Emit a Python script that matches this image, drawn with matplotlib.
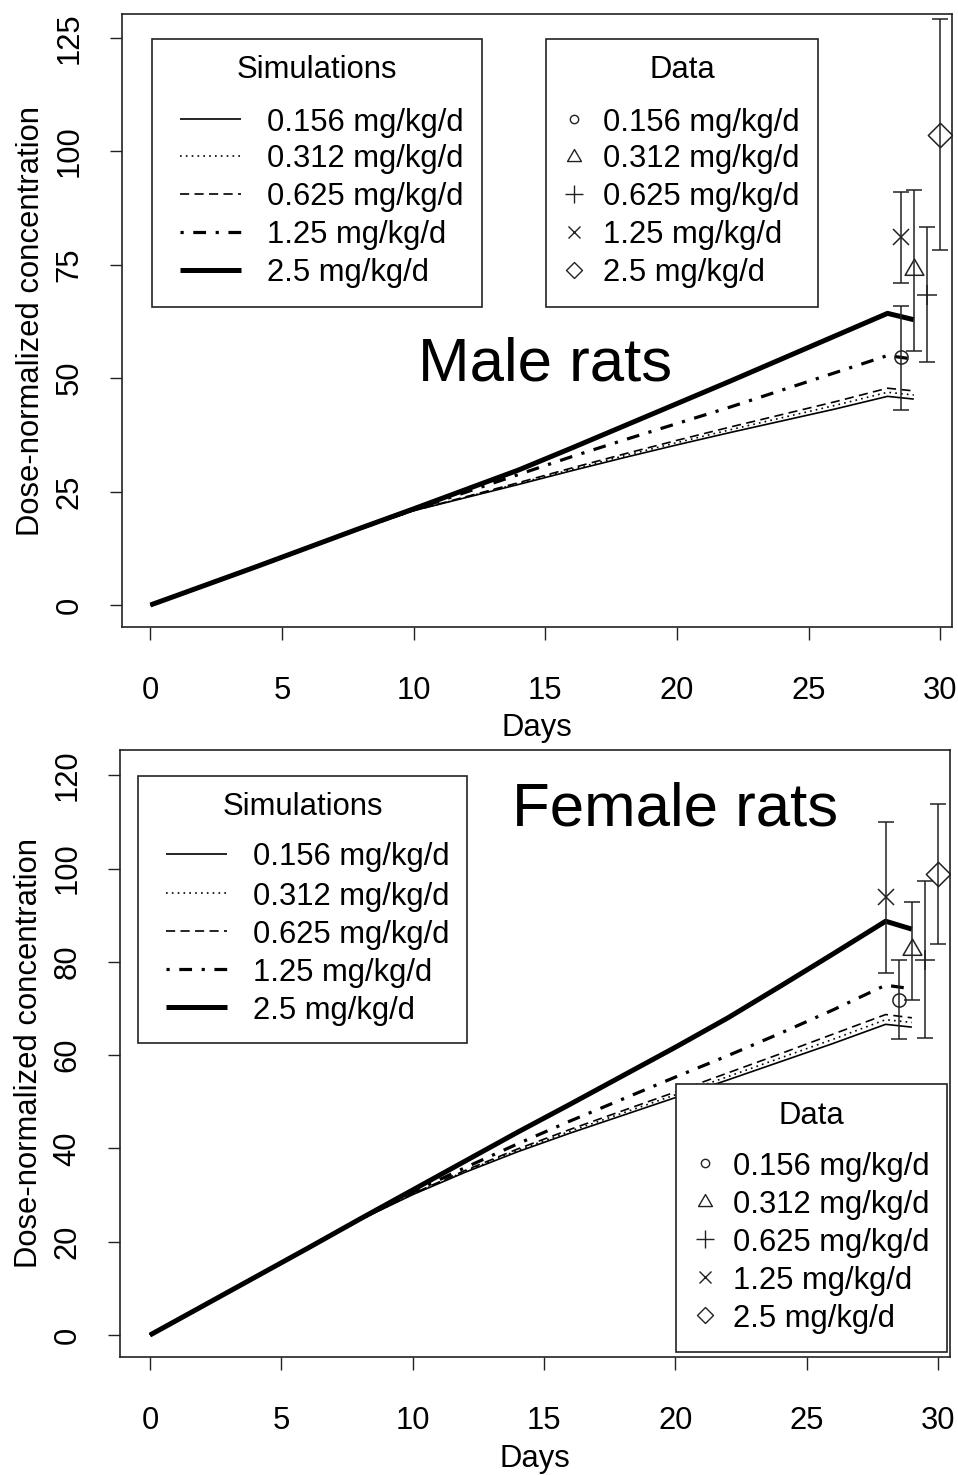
import matplotlib
matplotlib.use('Agg')
import matplotlib.pyplot as plt
from matplotlib.lines import Line2D
from matplotlib.patches import Rectangle
from matplotlib.path import Path

plt.rcParams['font.family'] = ['Liberation Sans', 'DejaVu Sans']

# ---------------- data ----------------
dose_labels = ['0.156 mg/kg/d', '0.312 mg/kg/d', '0.625 mg/kg/d', '1.25 mg/kg/d', '2.5 mg/kg/d']

sim_days = [0, 2, 4, 6, 8, 10, 12, 14, 16, 18, 20, 22, 24, 26, 28, 29]

male_sim_0156 = [0, 4.2, 8.4, 12.6, 16.8, 20.8, 23.7, 26.6, 29.6, 32.5, 35.3, 38.0, 40.6, 43.2, 46.0, 45.4]
male_sim_0312 = [0, 4.2, 8.4, 12.6, 16.8, 20.8, 23.8, 26.8, 29.9, 32.9, 35.8, 38.6, 41.3, 44.0, 46.9, 46.3]
male_sim_0625 = [0, 4.2, 8.4, 12.6, 16.8, 20.8, 23.9, 27.0, 30.2, 33.3, 36.3, 39.2, 42.0, 44.8, 47.8, 47.2]
male_sim_125 = [0, 4.2, 8.4, 12.7, 16.9, 21.0, 24.9, 28.8, 32.7, 36.4, 40.0, 43.6, 47.4, 51.2, 55.0, 54.2]
male_sim_25 = [0, 4.2, 8.4, 12.7, 17.0, 21.2, 25.5, 29.8, 34.6, 39.5, 44.4, 49.3, 54.3, 59.3, 64.3, 62.9]

female_sim_0156 = [0, 6.2, 12.4, 18.6, 24.7, 30.1, 34.9, 39.3, 43.3, 47.1, 50.9, 54.7, 58.6, 62.5, 66.6, 66.0]
female_sim_0312 = [0, 6.2, 12.4, 18.6, 24.7, 30.2, 35.1, 39.6, 43.7, 47.6, 51.5, 55.4, 59.4, 63.4, 67.6, 67.0]
female_sim_0625 = [0, 6.2, 12.4, 18.6, 24.7, 30.3, 35.3, 39.9, 44.1, 48.1, 52.1, 56.2, 60.3, 64.5, 68.7, 68.0]
female_sim_125 = [0, 6.2, 12.4, 18.6, 24.8, 30.6, 35.9, 41.0, 45.9, 50.6, 55.3, 59.9, 64.7, 69.7, 75.0, 74.2]
female_sim_25 = [0, 6.2, 12.4, 18.6, 24.9, 31.1, 37.3, 43.5, 49.5, 55.6, 61.7, 68.0, 74.8, 81.7, 88.7, 87.0]

male_obs_day = [28.5, 29.0, 29.5, 28.5, 30.0]
male_obs_mean = [54.7, 74.3, 68.3, 81.2, 103.6]
male_obs_lo = [43.0, 56.0, 53.5, 71.1, 78.3]
male_obs_hi = [66.0, 91.5, 83.3, 91.1, 129.1]

female_obs_day = [28.5, 29.0, 29.5, 28.0, 30.0]
female_obs_mean = [71.9, 83.0, 80.4, 93.9, 98.9]
female_obs_lo = [63.4, 71.9, 63.7, 77.5, 83.9]
female_obs_hi = [80.4, 92.9, 97.3, 109.9, 113.8]

x_ticks = [0, 5, 10, 15, 20, 25, 30]
male_y_ticks = [0, 25, 50, 75, 100, 125]
female_y_ticks = [0, 20, 40, 60, 80, 100, 120]

# ---------------- styles ----------------
W, H = 958, 1475
FS = 22.3
thin = 1.2
sim_styles = [
    dict(color='black', lw=thin, ls='-'),
    dict(color='black', lw=thin, ls=(0, (1, 2.5))),
    dict(color='black', lw=thin, ls=(0, (5.5, 3.2))),
    dict(color='black', lw=2.3, ls=(0, (1, 3, 4, 3))),
    dict(color='black', lw=3.6, ls='-'),
]


def closed(verts):
    return Path(list(verts) + [verts[0]], closed=True)


tri = closed([(0, 0.62), (-0.62, -0.45), (0.62, -0.45)])
dia = closed([(0, 1), (1, 0), (0, -1), (-1, 0)])
markers = ['o', tri, '+', 'x', dia]
plot_ms = [9.5, 13.5, 14.5, 11.5, 17.5]
leg_ms = [6.0, 10.0, 12.5, 8.5, 11.5]


def fx(x):
    return x / W


def fy(y):
    return 1 - y / H


fig = plt.figure(figsize=(W / 100, H / 100), dpi=100)


def make_axes(box, xlim, ylim, yticks, sims, od, om, olo, ohi):
    x0, y0, x1, y1 = box
    ax = fig.add_axes([fx(x0), fy(y1), (x1 - x0) / W, (y1 - y0) / H])
    for s, st in zip(sims, sim_styles):
        ax.plot(sim_days, s, solid_capstyle='butt', dash_capstyle='butt', **st)
    for i in range(len(od)):
        ax.errorbar([od[i]], [om[i]], yerr=[[om[i] - olo[i]], [ohi[i] - om[i]]],
                    fmt='none', ecolor='#222222', elinewidth=1.1, capsize=5.5, capthick=1.1)
        ax.plot([od[i]], [om[i]], ls='none', marker=markers[i], ms=plot_ms[i],
                mfc='none', mec='#222222', mew=1.1)
    ax.set_xlim(*xlim)
    ax.set_ylim(*ylim)
    ax.set_xticks(x_ticks)
    ax.set_yticks(yticks)
    ax.tick_params(direction='out', length=9, width=1.0, labelsize=FS, colors='#222222')
    ax.tick_params(axis='x', pad=26, labelcolor='black')
    ax.tick_params(axis='y', pad=18, labelrotation=90, labelcolor='black')
    for lab in ax.get_yticklabels():
        lab.set_va('center')
    for sp in ax.spines.values():
        sp.set_linewidth(1.2)
        sp.set_color('#222222')
    ax.set_xlabel('Days', fontsize=FS, va='center')
    ax.set_ylabel('Dose-normalized concentration', fontsize=FS, va='center')
    return ax


ax1 = make_axes((122, 14, 952, 627), (-1.08, 30.45), (-4.85, 130.3), male_y_ticks,
                [male_sim_0156, male_sim_0312, male_sim_0625, male_sim_125, male_sim_25],
                male_obs_day, male_obs_mean, male_obs_lo, male_obs_hi)
ax1.xaxis.set_label_coords(0.5, (627 - 728) / 613)
ax1.yaxis.set_label_coords((31 - 122) / 830, 0.5)
ax1.text(15.0, 49.4, 'Male rats', fontsize=44.5, ha='center', va='baseline')

ax2 = make_axes((120, 750, 950, 1357), (-1.14, 30.45), (-4.7, 125.4), female_y_ticks,
                [female_sim_0156, female_sim_0312, female_sim_0625, female_sim_125, female_sim_25],
                female_obs_day, female_obs_mean, female_obs_lo, female_obs_hi)
ax2.xaxis.set_label_coords(0.5, (1357 - 1459) / 607)
ax2.yaxis.set_label_coords((29 - 120) / 830, 0.5)
ax2.text(20.0, 109.3, 'Female rats', fontsize=44.5, ha='center', va='baseline')


# ---------------- legends (manual, R style) ----------------
def legend_box(box, title, rows_y, title_y, kind, hx, tx):
    x0, y0, x1, y1 = box
    fig.add_artist(Rectangle((fx(x0), fy(y1)), (x1 - x0) / W, (y1 - y0) / H,
                             transform=fig.transFigure, fill=True, facecolor='white',
                             edgecolor='#222222', lw=1.2, zorder=5))
    fig.text(fx((x0 + x1) / 2), fy(title_y), title, fontsize=FS, ha='center',
             va='center_baseline', zorder=6)
    for i, (lab, ry) in enumerate(zip(dose_labels, rows_y)):
        if kind == 'sim':
            st = sim_styles[i]
            fig.add_artist(Line2D([fx(hx[0]), fx(hx[1])], [fy(ry), fy(ry)],
                                  transform=fig.transFigure, color=st['color'], lw=st['lw'],
                                  ls=st['ls'], solid_capstyle='butt', dash_capstyle='butt',
                                  zorder=6))
        else:
            fig.add_artist(Line2D([fx(hx)], [fy(ry)], transform=fig.transFigure,
                                  ls='none', marker=markers[i], ms=leg_ms[i],
                                  mfc='none', mec='#222222', mew=1.0, zorder=6))
        fig.text(fx(tx), fy(ry), lab, fontsize=FS, ha='left', va='center_baseline', zorder=6)


legend_box((152, 39, 482, 307), 'Simulations', [119, 156, 194, 232, 270], 67, 'sim', (180, 241), 267)
legend_box((546, 39, 818, 307), 'Data', [119, 156, 194, 232, 270], 67, 'data', 574, 603)
legend_box((138, 776, 467, 1043), 'Simulations', [854, 893, 931, 969, 1007], 804, 'sim', (166, 227), 253)
legend_box((676, 1084, 947, 1352), 'Data', [1163, 1201, 1239, 1277, 1315], 1112, 'data', 705, 733)

fig.savefig('out.png', dpi=100)
